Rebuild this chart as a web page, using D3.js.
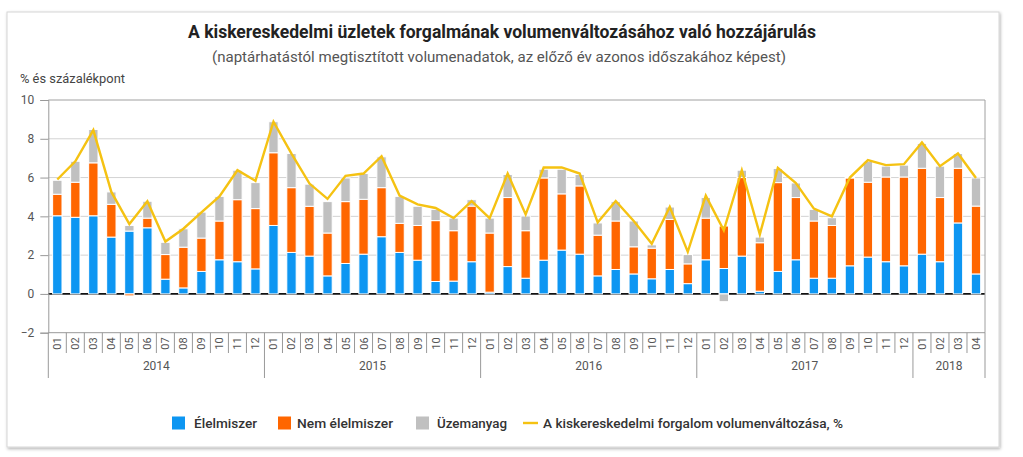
<!DOCTYPE html>
<html><head><meta charset="utf-8">
<script src="https://cdn.jsdelivr.net/npm/d3@7"></script>
<style>body{margin:0;background:#fff;font-family:Roboto,"Noto Sans",sans-serif}</style>
</head><body><svg id="c" width="1023" height="457"></svg>
<script>
const years = ["2014","2015","2016","2017","2018"];
const monthLabels = ["01","02","03","04","05","06","07","08","09","10","11","12"];
const months = [];
years.forEach(y => monthLabels.forEach(m => { if (!(y === "2018" && +m > 4)) months.push(y + "-" + m); }));

const food = [4.03,3.95,4.03,2.93,3.24,3.41,0.76,0.31,1.16,1.76,1.66,1.29,
  3.53,2.14,1.95,0.93,1.57,2.05,2.95,2.14,1.74,0.64,0.66,1.66,
  0.09,1.41,0.81,1.74,2.26,2.05,0.93,1.26,1.03,0.78,1.26,0.53,
  1.76,1.31,1.95,0.14,1.16,1.76,0.81,0.81,1.45,1.90,1.66,1.45,
  2.05,1.66,3.66,1.03];
const nonFood = [1.11,1.81,2.73,1.69,-0.10,0.50,1.27,2.10,1.72,2.00,3.20,3.11,
  3.75,3.34,2.57,2.21,3.19,2.83,2.53,1.50,1.79,3.14,2.60,2.87,
  3.05,3.56,2.45,4.24,2.90,3.52,2.10,2.50,1.40,1.58,2.58,1.02,
  2.15,2.19,4.05,2.50,4.58,3.21,2.95,2.72,4.53,3.86,4.37,4.58,
  4.43,3.31,2.82,3.50];
const fuel = [0.72,1.08,1.72,0.64,0.29,0.87,0.63,0.95,1.34,1.27,1.52,1.34,
  1.60,1.76,1.14,1.62,1.22,1.33,1.59,1.39,0.99,0.58,0.65,0.33,
  0.77,1.19,0.76,0.45,1.27,0.59,0.63,1.00,1.33,0.17,0.64,0.48,
  1.06,-0.40,0.38,0.29,0.73,0.75,0.60,0.40,0.05,1.08,0.56,0.61,
  1.28,1.62,0.76,1.45];
const total = [5.90,6.84,8.45,5.26,3.60,4.78,2.70,3.36,4.20,5.03,6.38,5.83,
  8.88,7.24,5.69,4.90,6.09,6.21,7.10,5.07,4.62,4.43,3.91,4.79,
  3.91,6.21,4.10,6.52,6.52,6.21,3.69,4.79,3.76,2.59,4.48,2.17,
  5.07,3.28,6.38,3.07,6.50,5.72,4.40,4.00,6.00,6.90,6.64,6.69,
  7.81,6.59,7.24,5.98];
const yTicks = [-2,0,2,4,6,8,10];
const seriesNames = ["Élelmiszer","Nem élelmiszer","Üzemanyag"];
const lineName = "A kiskereskedelmi forgalom volumenváltozása, %";
const colors = ["#0d96f2","#ff6600","#c0c0c0"];
const lineColor = "#f5c212";

const svg = d3.select("#c");
// card
const defs = svg.append("defs");
const f = defs.append("filter").attr("id","sh").attr("x","-5%").attr("y","-5%").attr("width","110%").attr("height","110%");
f.append("feDropShadow").attr("dx",1).attr("dy",1.5).attr("stdDeviation",1.8).attr("flood-color","#000").attr("flood-opacity",0.3);
svg.append("rect").attr("x",7).attr("y",12).attr("width",992).attr("height",435).attr("fill","#fff").attr("stroke","#d6d6d6").attr("filter","url(#sh)");

const x0 = 48.3, x1 = 985, yTop = 100, yBot = 332.7;
const x = d3.scaleBand().domain(months).range([x0,x1]).paddingInner(0.48).paddingOuter(0.24);
const y = d3.scaleLinear().domain([-2,10]).range([yBot,yTop]);

// title
svg.append("text").attr("x",188).attr("y",38).attr("font-size",17.5).attr("font-weight","bold").attr("fill","#222")
  .attr("textLength",628).attr("lengthAdjust","spacingAndGlyphs")
  .text("A kiskereskedelmi üzletek forgalmának volumenváltozásához való hozzájárulás");
svg.append("text").attr("x",212).attr("y",62).attr("font-size",15).attr("fill","#555")
  .attr("textLength",574).attr("lengthAdjust","spacingAndGlyphs")
  .text("(naptárhatástól megtisztított volumenadatok, az előző év azonos időszakához képest)");
svg.append("text").attr("x",20).attr("y",83).attr("font-size",12.5).attr("fill","#444")
  .attr("textLength",105).attr("lengthAdjust","spacingAndGlyphs").text("% és százalékpont");

// grid
const g = svg.append("g");
g.selectAll("line.grid").data(yTicks.filter(t => t > -2 && t < 10 && t !== 0)).join("line")
  .attr("x1",x0).attr("x2",x1).attr("y1",d=>y(d)).attr("y2",d=>y(d)).attr("stroke","#d3d3d3").attr("stroke-width",1);
// zero line
g.append("line").attr("x1",x0).attr("x2",x1).attr("y1",y(0)).attr("y2",y(0)).attr("stroke","#111").attr("stroke-width",1.6);
// frame top & right
g.append("line").attr("x1",x0).attr("x2",x1).attr("y1",y(10)).attr("y2",y(10)).attr("stroke","#a0a0a0");
g.append("line").attr("x1",x1).attr("x2",x1).attr("y1",y(10)).attr("y2",y(-2)).attr("stroke","#a0a0a0");

// y axis
const yAxis = d3.axisLeft(y).tickValues(yTicks).tickSize(8).tickPadding(6);
const ya = svg.append("g").attr("transform",`translate(${x0},0)`).call(yAxis);
ya.select(".domain").attr("stroke","#999");
ya.selectAll(".tick line").attr("stroke","#999");
ya.selectAll(".tick text").attr("font-size",12).attr("fill","#555").attr("font-family","Roboto");

// stacked bars
const rows = months.map((m,i) => ({m, f: food[i], n: nonFood[i], u: fuel[i]}));
const stack = d3.stack().keys(["f","n","u"]).offset(d3.stackOffsetDiverging);
const layers = stack(rows);
svg.append("g").selectAll("g").data(layers).join("g").attr("fill",(d,i)=>colors[i])
  .selectAll("rect").data(d=>d).join("rect")
  .attr("x",d=>x(d.data.m)).attr("width",x.bandwidth())
  .attr("y",d=>y(Math.max(d[0],d[1]))).attr("height",d=>Math.abs(y(d[0])-y(d[1])))
  .attr("stroke","#fff").attr("stroke-width",1);

// line
const line = d3.line().x((d,i)=>x(months[i])+x.bandwidth()/2).y(d=>y(d));
svg.append("path").datum(total).attr("d",line).attr("fill","none").attr("stroke",lineColor).attr("stroke-width",2.4).attr("stroke-linejoin","miter");

// x axis
const xa = svg.append("g");
xa.append("line").attr("x1",x0).attr("x2",x1).attr("y1",yBot).attr("y2",yBot).attr("stroke","#999");
months.forEach((m,i) => {
  const left = x(m) - x.step()*x.paddingInner()/2;
  const isYear = m.endsWith("-01");
  xa.append("line").attr("x1",left).attr("x2",left).attr("y1",yBot).attr("y2",isYear?378:353).attr("stroke","#999");
  const cx = x(m)+x.bandwidth()/2;
  xa.append("text").attr("transform",`translate(${cx+0.5},343.5) rotate(-90)`).attr("text-anchor","middle").attr("dominant-baseline","central")
    .attr("font-size",11).attr("fill","#555").text(m.slice(5));
});
xa.append("line").attr("x1",x1).attr("x2",x1).attr("y1",yBot).attr("y2",378).attr("stroke","#999");
years.forEach(yr => {
  const ms = months.filter(m => m.startsWith(yr));
  const a = x(ms[0]) - x.step()*x.paddingInner()/2;
  const b = x(ms[ms.length-1]) + x.bandwidth() + x.step()*x.paddingInner()/2;
  xa.append("text").attr("x",(a+b)/2).attr("y",370).attr("text-anchor","middle").attr("font-size",12).attr("fill","#555").text(yr);
});

// legend
const ly = 423;
const leg = [{t:seriesNames[0],sx:172,tx:194,w:63,c:colors[0]},{t:seriesNames[1],sx:278,tx:297,w:96,c:colors[1]},{t:seriesNames[2],sx:416,tx:437,w:70,c:colors[2]}];
leg.forEach(d => {
  svg.append("rect").attr("x",d.sx).attr("y",ly-6.5).attr("width",13).attr("height",13).attr("fill",d.c);
  svg.append("text").attr("x",d.tx).attr("y",ly).attr("dominant-baseline","central").attr("font-size",13).attr("font-weight",500).attr("fill","#333")
    .attr("textLength",d.w).attr("lengthAdjust","spacingAndGlyphs").text(d.t);
});
svg.append("line").attr("x1",523).attr("x2",538).attr("y1",ly).attr("y2",ly).attr("stroke",lineColor).attr("stroke-width",2.4);
svg.append("text").attr("x",543).attr("y",ly).attr("dominant-baseline","central").attr("font-size",13).attr("font-weight",500).attr("fill","#333")
  .attr("textLength",300).attr("lengthAdjust","spacingAndGlyphs").text(lineName);
</script></body></html>
